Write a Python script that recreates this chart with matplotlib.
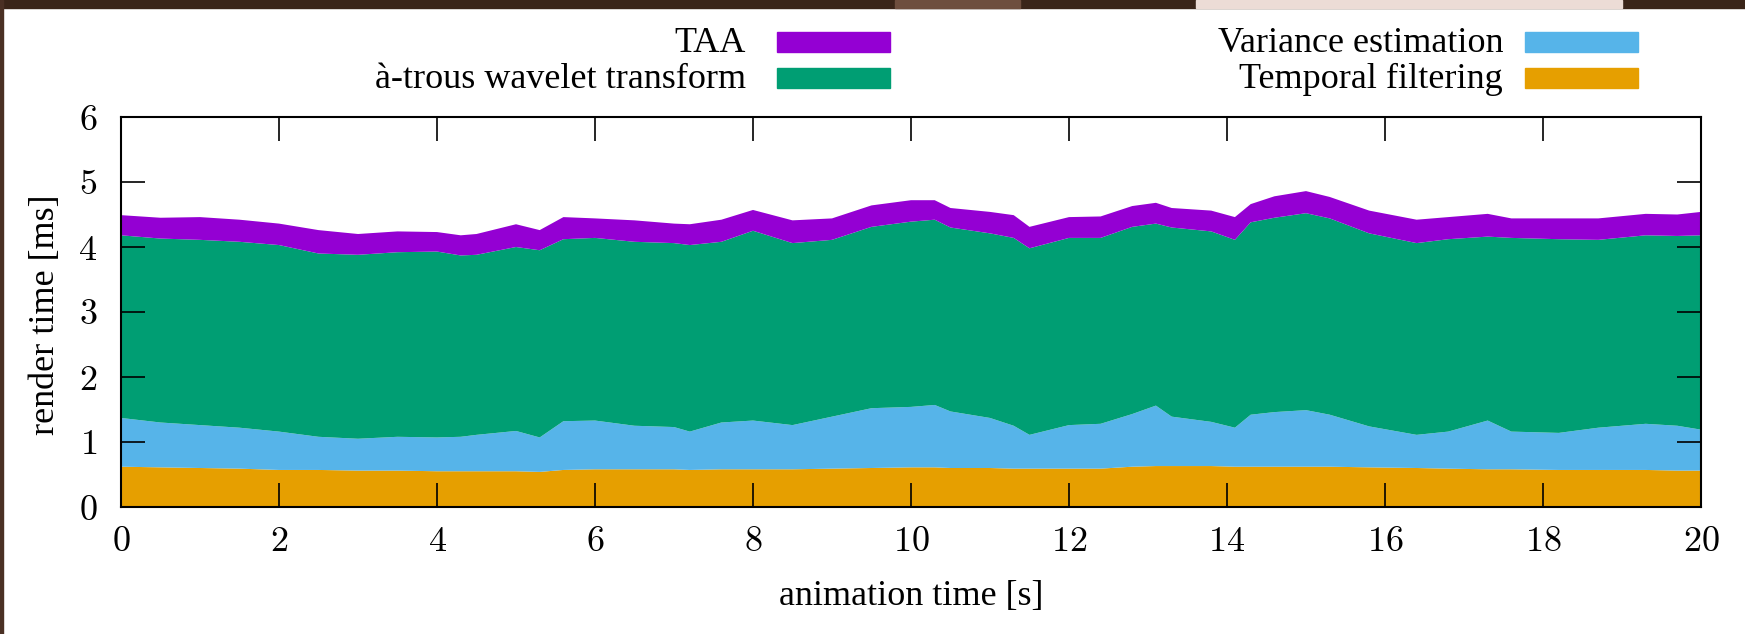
import numpy as np
import matplotlib
matplotlib.use('Agg')
import matplotlib.pyplot as plt
from matplotlib.patches import Rectangle
from matplotlib.ticker import FuncFormatter

# ---------------- data ----------------
time_s = [0, 0.5, 1, 1.5, 2, 2.5, 3, 3.5, 4, 4.3, 4.5, 5, 5.3, 5.6, 6, 6.5,
          7, 7.2, 7.6, 8, 8.5, 9, 9.5, 10, 10.3, 10.5, 11, 11.3, 11.5, 12,
          12.4, 12.8, 13.1, 13.3, 13.8, 14.1, 14.3, 14.6, 15, 15.3, 15.8,
          16.4, 16.8, 17.3, 17.6, 18.2, 18.7, 19.3, 19.7, 20]

temporal_filtering = [0.62, 0.61, 0.60, 0.59, 0.57, 0.57, 0.56, 0.56, 0.55, 0.55,
                      0.55, 0.55, 0.54, 0.57, 0.58, 0.58, 0.58, 0.57, 0.58, 0.58,
                      0.58, 0.59, 0.60, 0.61, 0.61, 0.60, 0.60, 0.59, 0.59, 0.59,
                      0.59, 0.62, 0.63, 0.63, 0.63, 0.62, 0.62, 0.62, 0.62, 0.62,
                      0.61, 0.60, 0.59, 0.58, 0.58, 0.57, 0.57, 0.57, 0.56, 0.56]

variance_estimation = [0.75, 0.69, 0.66, 0.63, 0.59, 0.51, 0.49, 0.52, 0.52, 0.53,
                       0.56, 0.62, 0.53, 0.75, 0.75, 0.67, 0.65, 0.59, 0.72, 0.75,
                       0.68, 0.80, 0.92, 0.93, 0.96, 0.87, 0.77, 0.66, 0.52, 0.67,
                       0.69, 0.81, 0.93, 0.76, 0.68, 0.60, 0.80, 0.84, 0.87, 0.80,
                       0.63, 0.51, 0.57, 0.75, 0.58, 0.57, 0.65, 0.71, 0.69, 0.63]

atrous_wavelet = [2.81, 2.83, 2.85, 2.86, 2.87, 2.82, 2.83, 2.84, 2.86, 2.79,
                  2.77, 2.83, 2.88, 2.80, 2.81, 2.83, 2.83, 2.87, 2.78, 2.92,
                  2.80, 2.72, 2.79, 2.85, 2.85, 2.83, 2.84, 2.89, 2.87, 2.88,
                  2.86, 2.88, 2.80, 2.91, 2.93, 2.89, 2.96, 2.99, 3.03, 3.02,
                  2.97, 2.95, 2.96, 2.83, 2.98, 2.98, 2.89, 2.90, 2.92, 2.99]

taa = [0.31, 0.32, 0.35, 0.34, 0.33, 0.36, 0.32, 0.32, 0.30, 0.31,
       0.32, 0.35, 0.31, 0.34, 0.30, 0.33, 0.30, 0.32, 0.34, 0.32,
       0.35, 0.33, 0.33, 0.33, 0.30, 0.30, 0.33, 0.35, 0.33, 0.32,
       0.33, 0.32, 0.32, 0.30, 0.32, 0.35, 0.28, 0.33, 0.34, 0.33,
       0.35, 0.36, 0.34, 0.35, 0.30, 0.32, 0.33, 0.33, 0.33, 0.36]

series_labels = ['Temporal filtering', 'Variance estimation',
                 'à-trous wavelet transform', 'TAA']
series_colors = ['#E69F00', '#56B4E9', '#009E73', '#9400D3']

x_ticks = list(range(0, 21, 2))
y_ticks = list(range(0, 7))

# ---------------- styling ----------------
plt.rcParams['mathtext.fontset'] = 'cm'
plt.rcParams['font.family'] = ['Liberation Serif', 'DejaVu Serif']

W, H = 1745, 634
fig = plt.figure(figsize=(W / 100, H / 100), dpi=100)
fig.patch.set_facecolor('white')

# screenshot border remnants
fig.patches.append(Rectangle((0, 1 - 8 / H), 1, 8 / H, transform=fig.transFigure,
                             color='#3a2519', zorder=0))
fig.patches.append(Rectangle((895 / W, 1 - 8 / H), 125 / W, 8 / H, transform=fig.transFigure,
                             color='#6e4e3e', zorder=0))
fig.patches.append(Rectangle((1196 / W, 1 - 8 / H), 426 / W, 8 / H, transform=fig.transFigure,
                             color='#ecdcd6', zorder=0))
fig.patches.append(Rectangle((0, 0), 3 / W, 1, transform=fig.transFigure,
                             color='#4a3024', zorder=0))

L, R, T, B = 121, 1701, 117, 507
ax = fig.add_axes([L / W, 1 - B / H, (R - L) / W, (B - T) / H])

ax.stackplot(time_s, temporal_filtering, variance_estimation, atrous_wavelet, taa,
             colors=series_colors, linewidth=0, antialiased=True)

ax.set_xlim(0, 20)
ax.set_ylim(0, 6)
ax.set_xticks(x_ticks)
ax.set_yticks(y_ticks)
fmt = FuncFormatter(lambda v, p: r'$%d$' % int(round(v)))
ax.xaxis.set_major_formatter(fmt)
ax.yaxis.set_major_formatter(fmt)
ax.tick_params(which='both', direction='in', length=17, width=1.2,
               top=True, right=True, labelsize=26, color='black')
ax.tick_params(axis='x', pad=14)
ax.tick_params(axis='y', pad=17)
for s in ax.spines.values():
    s.set_linewidth(1.5)
    s.set_zorder(5)

ax.set_xlabel('animation time [s]', fontsize=26)
ax.xaxis.set_label_coords(0.5, (B - 580) / (B - T))
ax.set_ylabel('render time [ms]', fontsize=26)
ax.yaxis.set_label_coords((62 - L) / (R - L), (B - 315) / (B - T))

# ---------------- legend (gnuplot style: text then swatch) ----------------
legend_order = [3, 2, 1, 0]
col_text_right = [746, 1503]
col_swatch_x = [777, 1525]
swatch_w = 113
row_swatch_top = [32, 68]
row_baseline = [52, 88]
swatch_h = 20
for k, idx in enumerate(legend_order):
    col, row = k // 2, k % 2
    fig.text(col_text_right[col] / W, 1 - row_baseline[row] / H, series_labels[idx],
             ha='right', va='baseline', fontsize=26)
    fig.patches.append(Rectangle((col_swatch_x[col] / W, 1 - (row_swatch_top[row] + swatch_h) / H),
                                 swatch_w / W, swatch_h / H, transform=fig.transFigure,
                                 color=series_colors[idx]))

fig.savefig('out.png', dpi=100)
